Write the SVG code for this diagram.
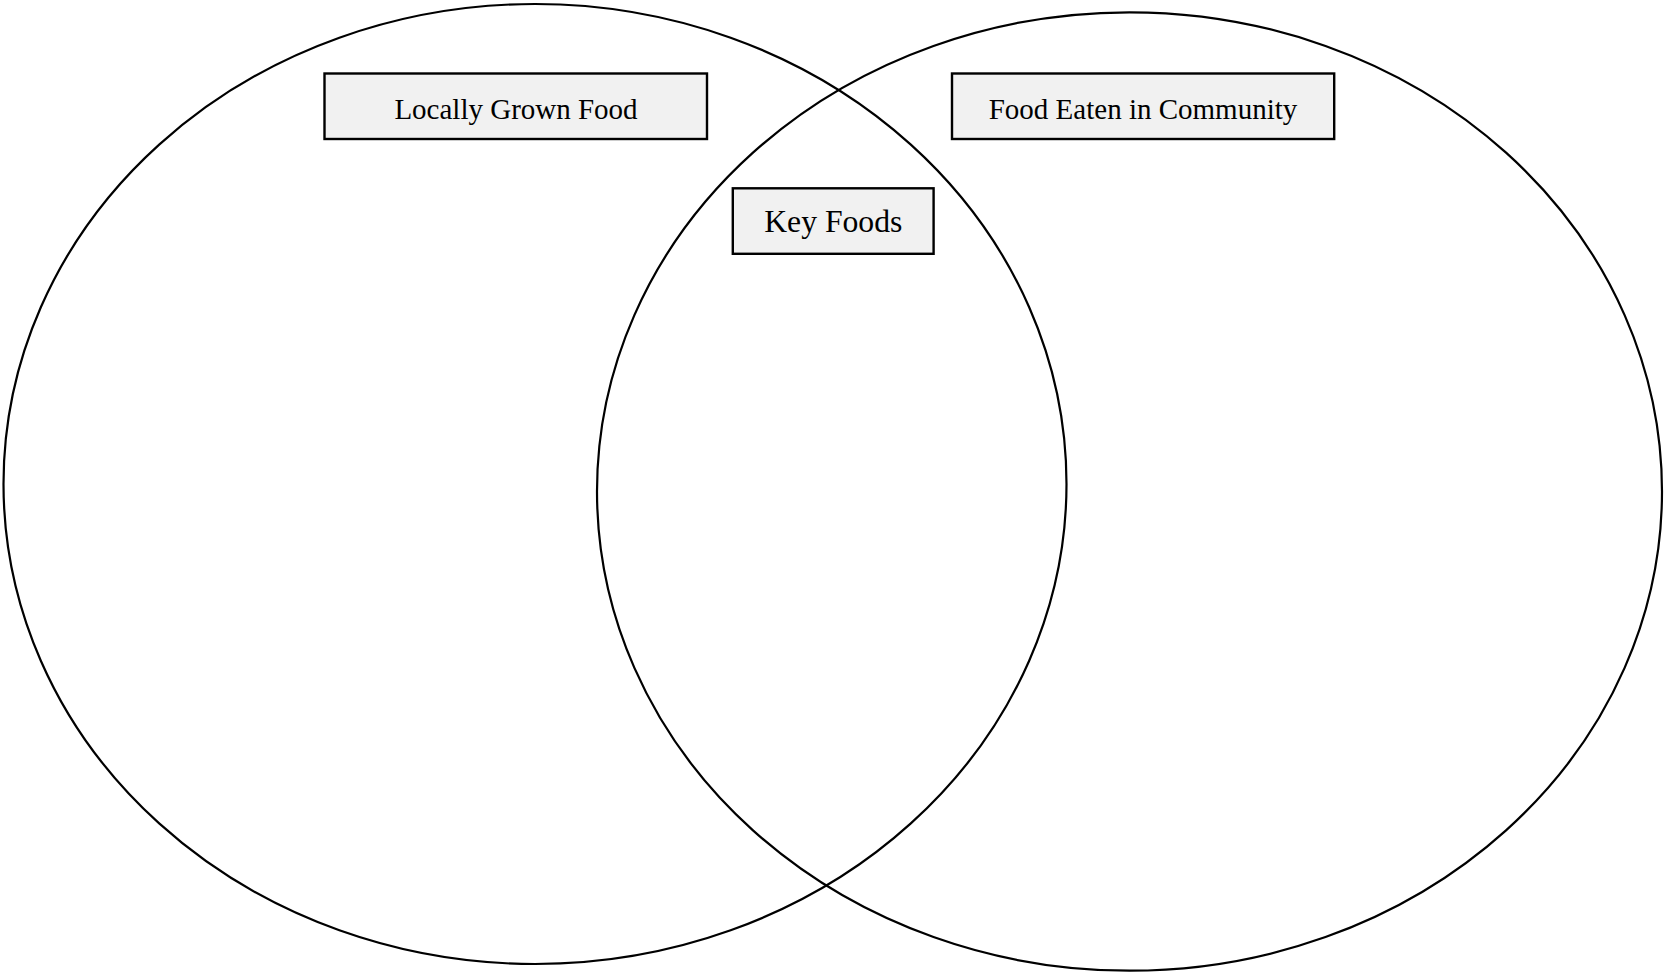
<svg xmlns="http://www.w3.org/2000/svg" width="1664" height="972" viewBox="0 0 1664 972">
<style>
.circ{fill:none;stroke:#000;stroke-width:2.2}
.box{fill:#f1f1f1;stroke:#000;stroke-width:2.4}
.lbl{font-family:"Liberation Serif","Times New Roman",serif;fill:#000;text-anchor:middle}
</style>
<rect width="1664" height="972" fill="#fff"/>
<g id="set-left"><ellipse class="circ" cx="535" cy="484" rx="531.5" ry="480"/></g>
<g id="set-right"><ellipse class="circ" cx="1129.5" cy="491.5" rx="532.5" ry="479.2"/></g>
<g id="connectors"></g>
<g id="label-locally"><rect class="box" x="324.5" y="73.5" width="382.5" height="65.5"/><text class="lbl" x="516" y="119.3" font-size="29">Locally Grown Food</text></g>
<g id="label-community"><rect class="box" x="952" y="73.5" width="382.2" height="65.5"/><text class="lbl" x="1143" y="119.3" font-size="29">Food Eaten in Community</text></g>
<g id="label-key"><rect class="box" x="732.8" y="188.3" width="200.8" height="65.5"/><text class="lbl" x="833.3" y="232.3" font-size="31.7">Key Foods</text></g>
</svg>
